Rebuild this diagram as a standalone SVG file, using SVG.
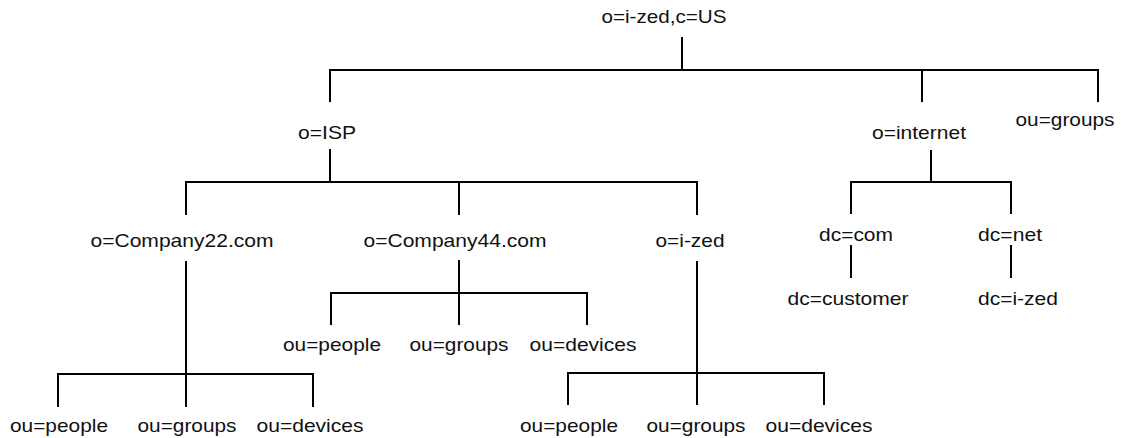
<svg xmlns="http://www.w3.org/2000/svg" width="1146" height="438" viewBox="0 0 1146 438">
  <style>
    .lbl { font-family: "Liberation Sans", Arial, Helvetica, sans-serif; font-size: 19px; fill: #111; text-anchor: middle; }
    .link { fill: none; stroke: #000; stroke-width: 2; stroke-linejoin: miter; }
  </style>
  <rect width="1146" height="438" fill="#fff"/>

  <!-- directory tree connectors -->
  <g id="connectors" class="link">
    <path d="M682,37 V70 M330,102 V70 H1098 V102 M922,70 V102"/>
    <path d="M330,149 V182 M186,215 V182 H697 V215 M459,182 V215"/>
    <path d="M931,150 V182 M851,214 V182 H1011 V214"/>
    <path d="M851,245 V278 M1011,245 V278"/>
    <path d="M186,261 V407 M58,407 V374 H313 V407"/>
    <path d="M459,260 V325 M331,325 V293 H587 V325"/>
    <path d="M697,261 V405 M568,405 V373 H824 V405"/>
  </g>

  <!-- entries -->
  <g id="root"><text class="lbl" x="664" y="23" textLength="125" lengthAdjust="spacingAndGlyphs">o=i-zed,c=US</text></g>

  <g id="isp"><text class="lbl" x="327" y="139" textLength="58" lengthAdjust="spacingAndGlyphs">o=ISP</text></g>
  <g id="internet"><text class="lbl" x="919" y="139" textLength="94" lengthAdjust="spacingAndGlyphs">o=internet</text></g>
  <g id="groups-top"><text class="lbl" x="1065" y="126" textLength="99" lengthAdjust="spacingAndGlyphs">ou=groups</text></g>

  <g id="company22"><text class="lbl" x="182" y="247" textLength="183" lengthAdjust="spacingAndGlyphs">o=Company22.com</text></g>
  <g id="company44"><text class="lbl" x="455" y="247" textLength="183" lengthAdjust="spacingAndGlyphs">o=Company44.com</text></g>
  <g id="ized"><text class="lbl" x="690" y="247" textLength="69" lengthAdjust="spacingAndGlyphs">o=i-zed</text></g>

  <g id="dc-com"><text class="lbl" x="856" y="241" textLength="74" lengthAdjust="spacingAndGlyphs">dc=com</text></g>
  <g id="dc-net"><text class="lbl" x="1010" y="241" textLength="64" lengthAdjust="spacingAndGlyphs">dc=net</text></g>
  <g id="dc-customer"><text class="lbl" x="848" y="305" textLength="121" lengthAdjust="spacingAndGlyphs">dc=customer</text></g>
  <g id="dc-ized"><text class="lbl" x="1018" y="305" textLength="80" lengthAdjust="spacingAndGlyphs">dc=i-zed</text></g>

  <g id="c44-people"><text class="lbl" x="332" y="351" textLength="98" lengthAdjust="spacingAndGlyphs">ou=people</text></g>
  <g id="c44-groups"><text class="lbl" x="459" y="351" textLength="99" lengthAdjust="spacingAndGlyphs">ou=groups</text></g>
  <g id="c44-devices"><text class="lbl" x="583" y="351" textLength="107" lengthAdjust="spacingAndGlyphs">ou=devices</text></g>

  <g id="c22-people"><text class="lbl" x="59" y="432" textLength="98" lengthAdjust="spacingAndGlyphs">ou=people</text></g>
  <g id="c22-groups"><text class="lbl" x="187" y="432" textLength="99" lengthAdjust="spacingAndGlyphs">ou=groups</text></g>
  <g id="c22-devices"><text class="lbl" x="310" y="432" textLength="107" lengthAdjust="spacingAndGlyphs">ou=devices</text></g>

  <g id="ized-people"><text class="lbl" x="569" y="432" textLength="98" lengthAdjust="spacingAndGlyphs">ou=people</text></g>
  <g id="ized-groups"><text class="lbl" x="696" y="432" textLength="99" lengthAdjust="spacingAndGlyphs">ou=groups</text></g>
  <g id="ized-devices"><text class="lbl" x="819" y="432" textLength="107" lengthAdjust="spacingAndGlyphs">ou=devices</text></g>
</svg>
